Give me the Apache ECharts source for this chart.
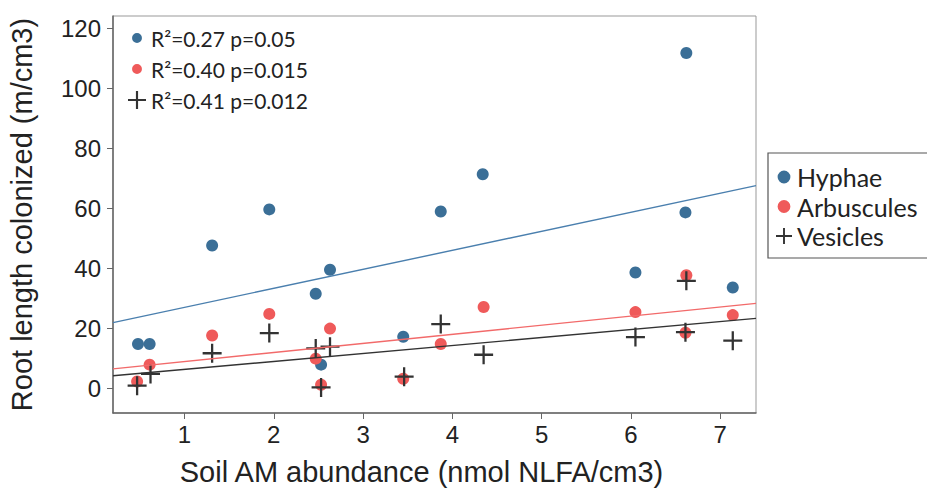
<!DOCTYPE html>
<html>
<head>
<meta charset="utf-8">
<script src="https://cdn.jsdelivr.net/npm/echarts@6/dist/echarts.min.js"></script>
<style>
  html, body { margin: 0; padding: 0; background: #fff; }
  #chart { width: 927px; height: 492px; }
</style>
</head>
<body>
<div id="chart"></div>
<script>
// soil AM abundance vs root length colonized
var hyphae = [
  [0.48, 14.8], [0.61, 14.8], [1.31, 47.6], [1.95, 59.6], [2.47, 31.5],
  [2.63, 39.5], [2.53, 7.9], [3.45, 17.2], [3.87, 58.9], [4.34, 71.3],
  [6.05, 38.6], [6.61, 58.6], [6.62, 111.7], [7.14, 33.6]
];
var arbuscules = [
  [0.47, 2.3], [0.61, 7.9], [1.31, 17.6], [1.95, 24.8], [2.47, 9.9],
  [2.53, 1.2], [2.63, 19.9], [3.45, 3.2], [3.87, 14.8], [4.35, 27.1],
  [6.05, 25.4], [6.62, 37.7], [6.61, 18.5], [7.14, 24.4]
];
var vesicles = [
  [0.47, 0.9], [0.62, 4.8], [1.31, 11.7], [1.95, 18.4], [2.47, 13.3],
  [2.63, 13.9], [2.53, 0.3], [3.46, 3.9], [3.87, 21.4], [4.35, 11.2],
  [6.05, 17.1], [6.62, 35.8], [6.61, 18.7], [7.14, 15.9]
];
// fitted lines, read at the plot edges
var hyphaeFit = [[0.2, 21.9], [7.4, 67.5]];
var arbFit = [[0.2, 6.5], [7.4, 28.3]];
var vesFit = [[0.2, 4.2], [7.4, 23.3]];

var seriesNames = ['Hyphae', 'Arbuscules', 'Vesicles'];
var fitNames = ['R\u00b2=0.27 p=0.05', 'R\u00b2=0.40 p=0.015', 'R\u00b2=0.41 p=0.012'];
var xTicks = [1, 2, 3, 4, 5, 6, 7];
var yTicks = [0, 20, 40, 60, 80, 100, 120];

var cBlue = '#3b6f97';
var cRed = '#ef5a5a';
var cDark = '#333333';
var cross = 'path://M8.8,0 H11.2 V8.8 H20 V11.2 H11.2 V20 H8.8 V11.2 H0 V8.8 H8.8 Z';
// circle with empty margin so it sits smaller than the cross in the legend box
var dotSmall = 'path://M0,0 M20,20 M4.5,10 A5.5,5.5 0 1 1 15.5,10 A5.5,5.5 0 1 1 4.5,10 Z';
var dotLegend = 'path://M0,0 M20,20 M2,10 A8,8 0 1 1 18,10 A8,8 0 1 1 2,10 Z';

var axisFont = 'Liberation Sans, Arial, sans-serif';
var legFont = 'Lato, Open Sans, sans-serif';

var chart = echarts.init(document.getElementById('chart'), null, { renderer: 'svg' });
var option = {
  backgroundColor: '#fff',
  animation: false,
  grid: {
    left: 113, top: 16, right: 171, bottom: 79,
    containLabel: false, outerBoundsMode: 'none',
    show: true, borderColor: '#999', borderWidth: 1
  },
  legend: [
    {
      data: [
        { name: seriesNames[0], icon: dotLegend },
        { name: seriesNames[1], icon: dotLegend },
        { name: seriesNames[2], icon: cross }
      ],
      orient: 'vertical',
      left: 768, top: 153,
      padding: [10, 30, 8, 8],
      itemWidth: 16, itemHeight: 16, itemGap: 1.5,
      borderColor: '#555', borderWidth: 1.2,
      textStyle: { fontFamily: legFont, fontSize: 25, lineHeight: 28, color: '#222' }
    },
    {
      data: [
        { name: fitNames[0], icon: dotSmall, itemStyle: { color: cBlue } },
        { name: fitNames[1], icon: dotSmall, itemStyle: { color: cRed } },
        { name: fitNames[2], icon: cross, itemStyle: { color: cDark } }
      ],
      orient: 'vertical',
      left: 128, top: 27, padding: 0,
      itemWidth: 18, itemHeight: 18, itemGap: 9,
      textStyle: { fontFamily: legFont, fontSize: 21, lineHeight: 22, color: '#222' }
    }
  ],
  xAxis: {
    type: 'value', min: 0.2, max: 7.4,
    name: 'Soil AM abundance (nmol NLFA/cm3)',
    nameLocation: 'middle', nameGap: 44,
    nameTextStyle: { fontFamily: axisFont, fontSize: 29, color: '#222', padding: [0, 26, 0, 0] },
    axisLine: { show: true, onZero: false, lineStyle: { color: '#666', width: 1.5 } },
    axisTick: { show: true, length: 6, customValues: xTicks, lineStyle: { color: '#666' } },
    axisLabel: { customValues: xTicks, margin: 9, fontFamily: axisFont, fontSize: 24, color: '#222' },
    splitLine: { show: false }
  },
  yAxis: {
    type: 'value', min: -8.2, max: 124,
    name: 'Root length colonized (m/cm3)',
    nameLocation: 'middle', nameGap: 77, nameRotate: 90,
    nameTextStyle: { fontFamily: axisFont, fontSize: 29, color: '#222' },
    axisLine: { show: true, onZero: false, lineStyle: { color: '#666', width: 1.5 } },
    axisTick: { show: true, length: 6, customValues: yTicks, lineStyle: { color: '#666' } },
    axisLabel: { customValues: yTicks, margin: 12, fontFamily: axisFont, fontSize: 24, color: '#222' },
    splitLine: { show: false }
  },
  series: [
    { name: fitNames[0], type: 'line', data: hyphaeFit, symbol: 'none',
      lineStyle: { color: '#4a7fae', width: 1.4 }, itemStyle: { color: cBlue } },
    { name: fitNames[1], type: 'line', data: arbFit, symbol: 'none',
      lineStyle: { color: '#f26a6a', width: 1.4 }, itemStyle: { color: cRed } },
    { name: fitNames[2], type: 'line', data: vesFit, symbol: 'none',
      lineStyle: { color: '#333', width: 1.4 }, itemStyle: { color: cDark } },
    { name: seriesNames[0], type: 'scatter', data: hyphae, symbol: 'circle', symbolSize: 12,
      itemStyle: { color: cBlue, opacity: 1 } },
    { name: seriesNames[1], type: 'scatter', data: arbuscules, symbol: 'circle', symbolSize: 12,
      itemStyle: { color: cRed, opacity: 1 } },
    { name: seriesNames[2], type: 'scatter', data: vesicles, symbol: cross, symbolSize: 19,
      itemStyle: { color: cDark, opacity: 1 } }
  ]
};
chart.setOption(option);
</script>
</body>
</html>
